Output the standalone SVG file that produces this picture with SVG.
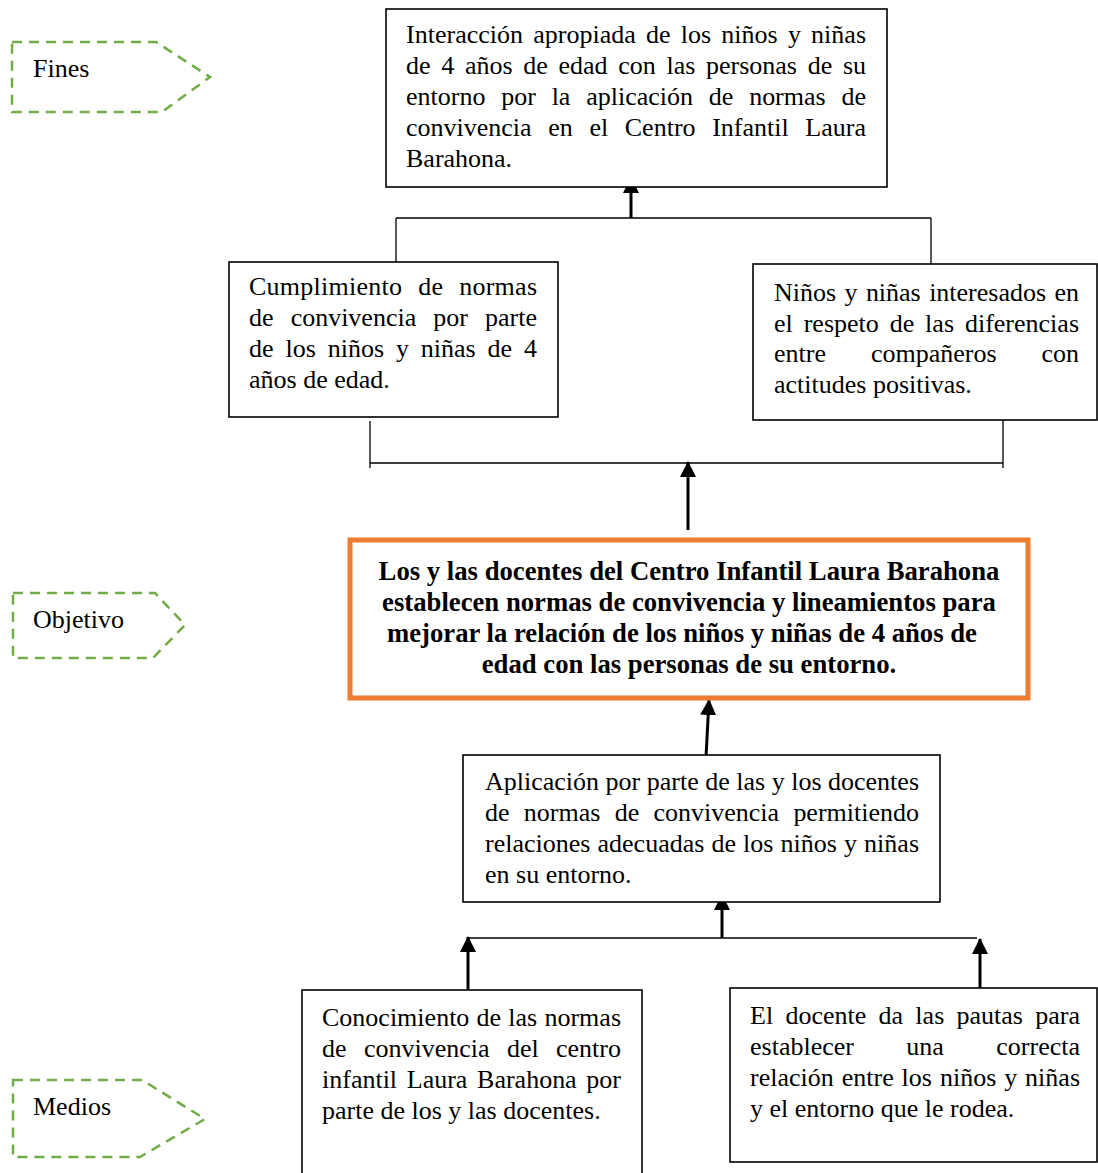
<svg xmlns="http://www.w3.org/2000/svg" width="1098" height="1173" viewBox="0 0 1098 1173">
<style>
.box{fill:#fff;stroke:#000;stroke-width:1.6}
.obj{fill:#fff;stroke:#ED7D31;stroke-width:5}
.tag{fill:#fff;stroke:#70AD47;stroke-width:2.5;stroke-dasharray:10 7}
.t{font-family:"Liberation Serif","Times New Roman",serif;font-size:26px;fill:#000}
.b{font-family:"Liberation Serif","Times New Roman",serif;font-size:26.7px;font-weight:bold;fill:#000;text-anchor:middle}
.ln{stroke:#000;stroke-width:1.3;fill:none}
.ar{stroke:#000;stroke-width:3;fill:none;marker-end:url(#ah)}
</style>
<defs>
<marker id="ah" viewBox="0 0 16 16" refX="15" refY="8" markerWidth="16" markerHeight="16" markerUnits="userSpaceOnUse" orient="auto">
<path d="M0,0 L16,8 L0,16 z" fill="#000"/>
</marker>
</defs>
<rect width="1098" height="1173" fill="#fff"/>

<g id="tag-fines">
<polygon class="tag" points="12,42 156,42 210,77 162,112 12,112"/>
<text class="t" x="33" y="77">Fines</text>
</g>
<g id="tag-objetivo">
<polygon class="tag" points="13,593 155,593 185,625 153,658 13,658"/>
<text class="t" x="33" y="628">Objetivo</text>
</g>
<g id="tag-medios">
<polygon class="tag" points="13,1080 142,1080 205,1119 140,1157 13,1157"/>
<text class="t" x="33" y="1115">Medios</text>
</g>

<g id="connectors">
<line class="ln" x1="396" y1="218" x2="931" y2="218"/>
<line class="ln" x1="396" y1="218" x2="396" y2="262"/>
<line class="ln" x1="931" y1="218" x2="931" y2="264"/>
<line class="ar" x1="631" y1="218" x2="631" y2="178"/>
<line class="ln" x1="370" y1="463" x2="1003" y2="463"/>
<line class="ln" x1="370" y1="421" x2="370" y2="468"/>
<line class="ln" x1="1003" y1="420" x2="1003" y2="468"/>
<line class="ar" x1="688" y1="530" x2="688" y2="462"/>
<line class="ar" x1="706" y1="757" x2="709" y2="700"/>
<line class="ln" x1="468" y1="938" x2="977" y2="938"/>
<line class="ar" x1="722" y1="938" x2="722" y2="895"/>
<line class="ar" x1="468" y1="990" x2="468" y2="937"/>
<line class="ar" x1="980" y1="990" x2="980" y2="939"/>
</g>

<g id="fin-principal">
<rect class="box" x="386" y="9" width="501" height="178"/>
<text class="t" x="406" y="43" word-spacing="3.7" textLength="460" lengthAdjust="spacing">Interacción apropiada de los niños y niñas</text>
<text class="t" x="406" y="74" word-spacing="4.2" textLength="460" lengthAdjust="spacing">de 4 años de edad con las personas de su</text>
<text class="t" x="406" y="105" word-spacing="9.3" textLength="460" lengthAdjust="spacing">entorno por la aplicación de normas de</text>
<text class="t" x="406" y="136" word-spacing="10.1" textLength="460" lengthAdjust="spacing">convivencia en el Centro Infantil Laura</text>
<text class="t" x="406" y="167">Barahona.</text>
</g>

<g id="fin-cumplimiento">
<rect class="box" x="229" y="262" width="329" height="155"/>
<text class="t" x="249" y="295" word-spacing="9.25" textLength="288" lengthAdjust="spacing">Cumplimiento de normas</text>
<text class="t" x="249" y="326" word-spacing="10.6" textLength="288" lengthAdjust="spacing">de convivencia por parte</text>
<text class="t" x="249" y="357" word-spacing="5.4" textLength="288" lengthAdjust="spacing">de los niños y niñas de 4</text>
<text class="t" x="249" y="388">años de edad.</text>
</g>

<g id="fin-respeto">
<rect class="box" x="753" y="264" width="344" height="156"/>
<text class="t" x="774" y="301" word-spacing="1.9" textLength="305" lengthAdjust="spacing">Niños y niñas interesados en</text>
<text class="t" x="774" y="332" word-spacing="4.4" textLength="305" lengthAdjust="spacing">el respeto de las diferencias</text>
<text class="t" x="774" y="362" word-spacing="38.4" textLength="305" lengthAdjust="spacing">entre compañeros con</text>
<text class="t" x="774" y="393">actitudes positivas.</text>
</g>

<g id="objetivo">
<rect class="obj" x="350" y="540" width="678" height="158"/>
<text class="b" x="689" y="580">Los y las docentes del Centro Infantil Laura Barahona</text>
<text class="b" x="689" y="611">establecen normas de convivencia y lineamientos para</text>
<text class="b" x="682" y="642">mejorar la relación de los niños y niñas de 4 años de</text>
<text class="b" x="689" y="673">edad con las personas de su entorno.</text>
</g>

<g id="medio-aplicacion">
<rect class="box" x="463" y="755" width="477" height="147"/>
<text class="t" x="485" y="790" textLength="434" lengthAdjust="spacing">Aplicación por parte de las y los docentes</text>
<text class="t" x="485" y="821" word-spacing="7.8" textLength="434" lengthAdjust="spacing">de normas de convivencia permitiendo</text>
<text class="t" x="485" y="852" word-spacing="0.6" textLength="434" lengthAdjust="spacing">relaciones adecuadas de los niños y niñas</text>
<text class="t" x="485" y="883">en su entorno.</text>
</g>

<g id="medio-conocimiento">
<rect class="box" x="302" y="990" width="340" height="200"/>
<text class="t" x="322" y="1026" word-spacing="0.7" textLength="299" lengthAdjust="spacing">Conocimiento de las normas</text>
<text class="t" x="322" y="1057" word-spacing="10.9" textLength="299" lengthAdjust="spacing">de convivencia del centro</text>
<text class="t" x="322" y="1088" word-spacing="3.2" textLength="299" lengthAdjust="spacing">infantil Laura Barahona por</text>
<text class="t" x="322" y="1119">parte de los y las docentes.</text>
</g>

<g id="medio-pautas">
<rect class="box" x="730" y="988" width="367" height="174"/>
<text class="t" x="750" y="1024" word-spacing="5.8" textLength="330" lengthAdjust="spacing">El docente da las pautas para</text>
<text class="t" x="750" y="1055" word-spacing="45.9" textLength="330" lengthAdjust="spacing">establecer una correcta</text>
<text class="t" x="750" y="1086" word-spacing="1.4" textLength="330" lengthAdjust="spacing">relación entre los niños y niñas</text>
<text class="t" x="750" y="1117">y el entorno que le rodea.</text>
</g>
</svg>
